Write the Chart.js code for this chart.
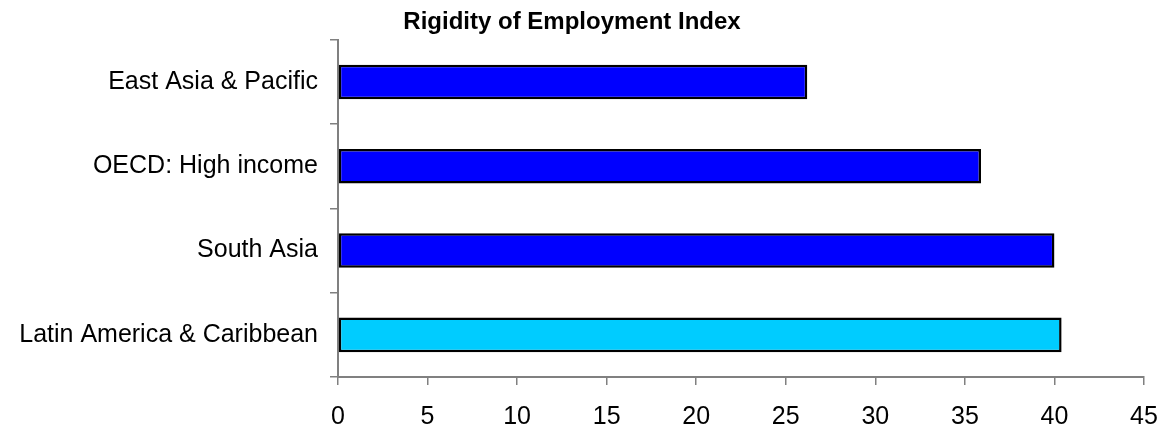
<!DOCTYPE html>
<html>
<head>
<meta charset="utf-8">
<script src="https://cdn.jsdelivr.net/npm/chart.js@4"></script>
<style>
  html, body { margin: 0; padding: 0; background: #fff; }
  #wrap { width: 1170px; height: 427px; position: relative; }
</style>
</head>
<body>
<div id="wrap"><canvas id="c"></canvas></div>
<script>
const categories = ["East Asia & Pacific", "OECD: High income", "South Asia", "Latin America & Caribbean"];
const values = [26.2, 35.9, 40.0, 40.4];
const barColors = ["#0000FF", "#0000FF", "#0000FF", "#00CCFF"];
const titleText = "Rigidity of Employment Index";
const xMin = 0, xMax = 45, xStep = 5;

Chart.defaults.font.family = "'Liberation Sans', Arial, sans-serif";
Chart.defaults.color = "#000";

new Chart(document.getElementById("c"), {
  type: "bar",
  data: {
    labels: categories,
    datasets: [{
      data: values,
      backgroundColor: barColors,
      borderColor: "#000",
      borderWidth: 2.5,
      borderSkipped: false,
      categoryPercentage: 1,
      barPercentage: 0.41
    }]
  },
  options: {
    indexAxis: "y",
    responsive: true,
    maintainAspectRatio: false,
    animation: false,
    layout: { padding: { left: 0, right: 26, top: 0, bottom: 0 } },
    plugins: {
      legend: { display: false },
      tooltip: { enabled: false },
      title: {
        display: true,
        text: titleText,
        font: { size: 24, weight: "bold", lineHeight: 1.2 },
        color: "#000",
        padding: { top: 8, bottom: 3 }
      }
    },
    scales: {
      x: {
        min: xMin,
        max: xMax,
        ticks: { stepSize: xStep, font: { size: 25 }, padding: 17, color: "#000", maxRotation: 0 },
        grid: { drawOnChartArea: false, drawTicks: true, tickLength: 8, color: "#808080", lineWidth: 1.5 },
        border: { display: true, color: "#808080", width: 2 },
        afterFit: (s) => { s.height = 50; s.paddingRight = 0; s.paddingLeft = 0; }
      },
      y: {
        ticks: { font: { size: 25 }, padding: 12, color: "#000" },
        grid: { drawOnChartArea: false, drawTicks: true, tickLength: 8, color: "#808080", lineWidth: 1.5, offset: true },
        border: { display: true, color: "#808080", width: 2 },
        afterFit: (s) => { s.width = 338; s.paddingTop = 0; s.paddingBottom = 0; }
      }
    }
  }
});
</script>
</body>
</html>
